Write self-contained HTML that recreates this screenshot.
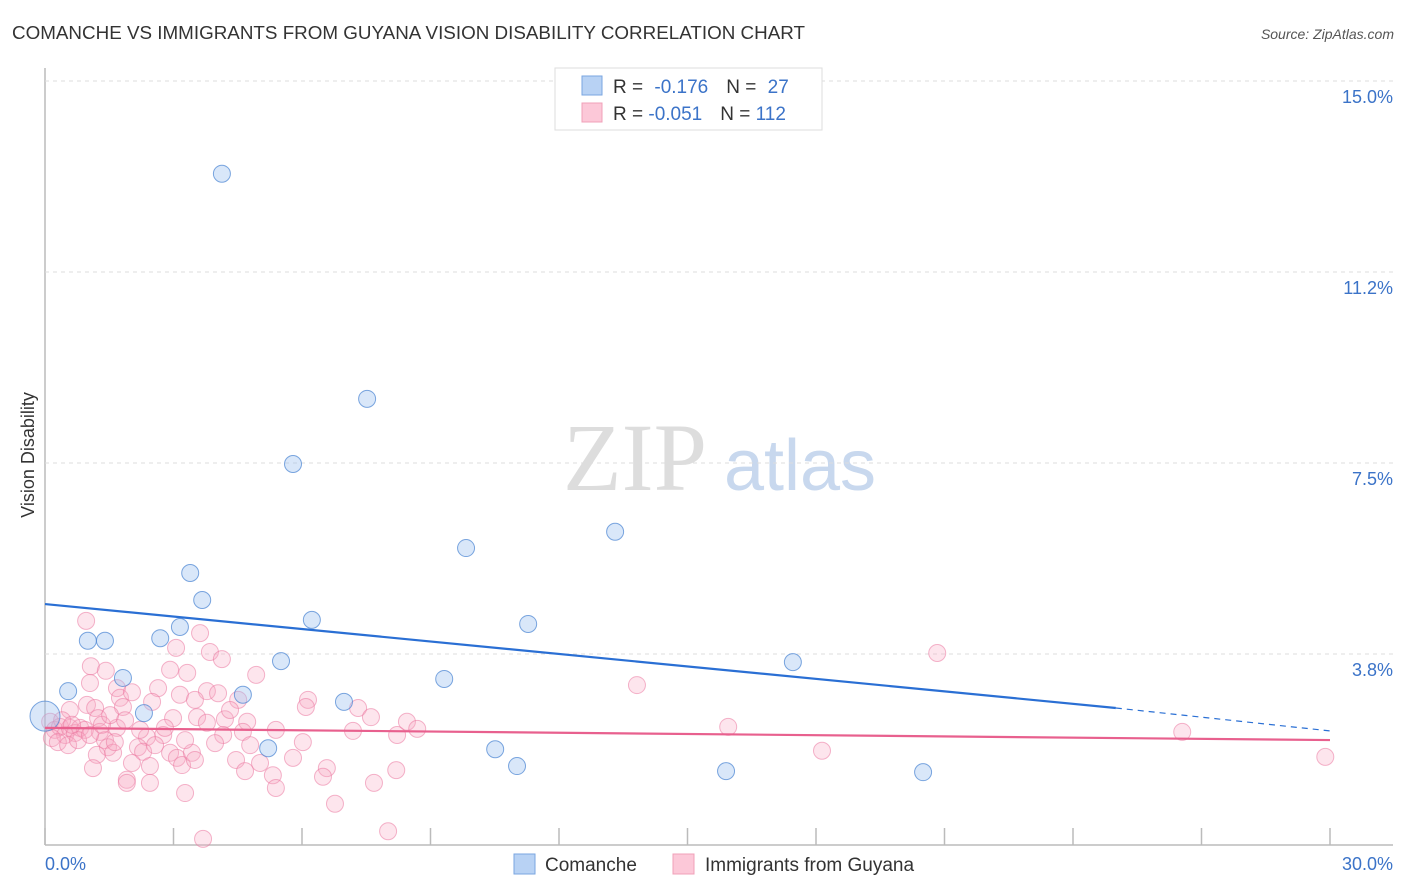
<!DOCTYPE html>
<html><head><meta charset="utf-8"><style>
body{margin:0;background:#fff;font-family:"Liberation Sans",sans-serif;}
svg{display:block}
</style></head><body>
<svg id="chart" width="1406" height="892">
<text x="12" y="39" font-size="18" fill="#333" textLength="793" lengthAdjust="spacingAndGlyphs">COMANCHE VS IMMIGRANTS FROM GUYANA VISION DISABILITY CORRELATION CHART</text>
<text x="1394" y="39" font-size="14" fill="#555" font-style="italic" text-anchor="end">Source: ZipAtlas.com</text>
<text x="34" y="455" font-size="18" fill="#333" transform="rotate(-90 34 455)" text-anchor="middle">Vision Disability</text>
<g><text x="635" y="490" font-size="96" fill="#ddd" font-family="Liberation Serif,serif" text-anchor="middle">ZIP</text><text x="800" y="490" font-size="72" fill="#c8d8ee" text-anchor="middle">atlas</text></g>
<g id="grid"></g><g id="marks"></g><g id="trend"></g>
<g>
<rect x="555" y="68" width="267" height="62" fill="#fff" stroke="#ddd"/>
<rect x="582" y="76" width="20" height="19" fill="#b8d2f4" stroke="#7aa6e0"/>
<rect x="582" y="103" width="20" height="19" fill="#fcc8d8" stroke="#f0a0b8"/>
<text x="613" y="93" font-size="19" fill="#333">R = <tspan fill="#3b73c8" dx="6">-0.176</tspan><tspan dx="18" fill="#333">N = </tspan><tspan fill="#3b73c8" dx="6">27</tspan></text>
<text x="613" y="120" font-size="19" fill="#333">R = <tspan fill="#3b73c8">-0.051</tspan><tspan dx="18" fill="#333">N = </tspan><tspan fill="#3b73c8">112</tspan></text>
</g>
<g>
<rect x="514" y="854" width="21" height="20" fill="#b8d2f4" stroke="#7aa6e0"/>
<text x="545" y="871" font-size="19" fill="#333">Comanche</text>
<rect x="673" y="854" width="21" height="20" fill="#fcc8d8" stroke="#f0a0b8"/>
<text x="705" y="871" font-size="19" fill="#333">Immigrants from Guyana</text>
</g>
</svg>
<script>
const yTicks=[3.8,7.5,11.2,15.0];
const yTickVals=[3.75,7.5,11.25,15.0];
const xTickLabels=["0.0%","30.0%"];
const blueX=[4.13,7.52,5.79,9.83,13.31,3.39,3.67,6.23,11.28,3.15,2.69,1.00,1.40,5.51,17.46,1.82,0.54,9.32,4.62,6.98,2.31,5.21,10.51,11.02,15.90,20.50,0.0];
const blueY=[13.18,8.76,7.48,5.83,6.15,5.34,4.81,4.42,4.34,4.28,4.06,4.01,4.01,3.61,3.59,3.28,3.02,3.26,2.95,2.81,2.59,1.90,1.88,1.55,1.45,1.43,2.53];
const pinkX=[0.96,1.07,1.42,1.05,0.58,0.98,1.17,1.24,1.68,1.75,1.82,2.03,2.64,2.50,2.92,3.32,3.06,3.62,3.85,4.13,3.15,3.78,4.04,4.51,4.93,2.99,3.55,3.78,4.20,4.72,4.62,4.16,3.97,2.76,2.38,1.68,1.28,1.40,1.47,1.59,1.21,1.12,2.03,2.17,2.29,2.45,1.91,1.91,2.45,2.92,3.08,3.20,3.43,3.50,4.46,4.67,5.02,5.32,5.39,3.27,3.69,5.79,6.02,5.39,6.14,6.09,6.58,6.49,6.77,7.19,7.31,7.61,8.22,8.45,8.69,7.68,8.20,8.01,0.12,0.23,0.35,0.47,0.16,0.58,0.70,0.82,0.30,0.54,0.93,0.77,0.40,0.63,13.82,15.95,18.14,20.83,26.55,29.89,1.05,1.33,1.52,1.63,1.87,2.22,2.57,2.80,3.27,3.50,4.32,4.79];
const pinkY=[4.40,3.51,3.42,3.18,2.65,2.75,2.69,2.49,3.08,2.89,2.71,3.00,3.08,2.81,3.44,3.38,3.87,4.16,3.79,3.65,2.95,3.02,2.98,2.85,3.34,2.49,2.51,2.40,2.47,2.42,2.22,2.16,2.00,2.16,2.12,2.30,2.22,2.06,1.92,1.81,1.77,1.51,1.61,1.92,1.83,1.55,1.28,1.22,1.22,1.81,1.71,1.57,1.81,1.67,1.67,1.45,1.61,1.37,1.12,1.02,0.12,1.71,2.02,2.26,2.85,2.71,1.51,1.34,0.81,2.24,2.69,2.51,2.16,2.42,2.28,1.22,1.47,0.27,2.42,2.26,2.32,2.16,2.10,2.30,2.20,2.30,2.02,1.96,2.26,2.06,2.45,2.36,3.14,2.32,1.85,3.77,2.22,1.73,2.16,2.36,2.55,2.02,2.45,2.26,1.96,2.30,2.06,2.85,2.65,1.96];
const blueTrendX=[0,25,30];
const blueTrendY=[4.73,2.69,2.24];
const pinkTrendX=[0,30];
const pinkTrendY=[2.30,2.06];

const NS="http://www.w3.org/2000/svg";
const X=v=>45+v*(1285/30);
const Y=v=>845-v*(573/11.25);
function mk(tag,attrs,parent){const e=document.createElementNS(NS,tag);for(const k in attrs)e.setAttribute(k,attrs[k]);parent.appendChild(e);return e;}
const grid=document.getElementById('grid'),marks=document.getElementById('marks'),trend=document.getElementById('trend');
let ax=mk('line',{x1:45,y1:68,x2:45,y2:845,stroke:'#bbb','stroke-width':1.5},grid);


let bx=mk('line',{x1:45,y1:845,x2:1393,y2:845,stroke:'#bbb','stroke-width':1.5},grid);


yTickVals.forEach((v,i)=>{
 const g=mk('line',{x1:45,y1:Y(v),x2:1393,y2:Y(v),stroke:'#ddd','stroke-dasharray':'4,4'},grid);
 
 
 const t=mk('text',{x:1393,y:Y(v)+22,'font-size':18,fill:'#3b73c8','text-anchor':'end'},grid);
 t.textContent=yTicks[i].toFixed(1)+'%';
 
 
});
for(let i=0;i<=10;i++){
 const tk=mk('line',{x1:X(i*3),y1:828,x2:X(i*3),y2:845,stroke:'#bbb','stroke-width':1.5},grid);
 
 
}
[[0,'start',45],[30,'end',1393]].forEach((d,i)=>{
 const t=mk('text',{x:d[2],y:870,'font-size':18,fill:'#3b73c8','text-anchor':d[1]},grid);
 t.textContent=xTickLabels[i];
 
 
});
pinkX.forEach((x,i)=>{
 const c=mk('circle',{cx:X(x),cy:Y(pinkY[i]),r:8.5,fill:'rgba(248,170,195,0.3)',stroke:'rgba(235,120,160,0.55)','stroke-width':1},marks);
 
 
});
blueX.forEach((x,i)=>{
 const c=mk('circle',{cx:X(x),cy:Y(blueY[i]),r:i===26?15:8.5,fill:'rgba(160,195,240,0.4)',stroke:'rgba(70,130,210,0.7)','stroke-width':1},marks);
 
 
});
let l1=mk('line',{x1:X(blueTrendX[0]),y1:Y(blueTrendY[0]),x2:X(blueTrendX[1]),y2:Y(blueTrendY[1]),stroke:'#2a6fd4','stroke-width':2.2},trend);


let l2=mk('line',{x1:X(blueTrendX[1]),y1:Y(blueTrendY[1]),x2:X(blueTrendX[2]),y2:Y(blueTrendY[2]),stroke:'#2a6fd4','stroke-width':1.2,'stroke-dasharray':'6,5'},trend);


let l3=mk('line',{x1:X(pinkTrendX[0]),y1:Y(pinkTrendY[0]),x2:X(pinkTrendX[1]),y2:Y(pinkTrendY[1]),stroke:'#e8608e','stroke-width':2.2},trend);


</script>
</body></html>
